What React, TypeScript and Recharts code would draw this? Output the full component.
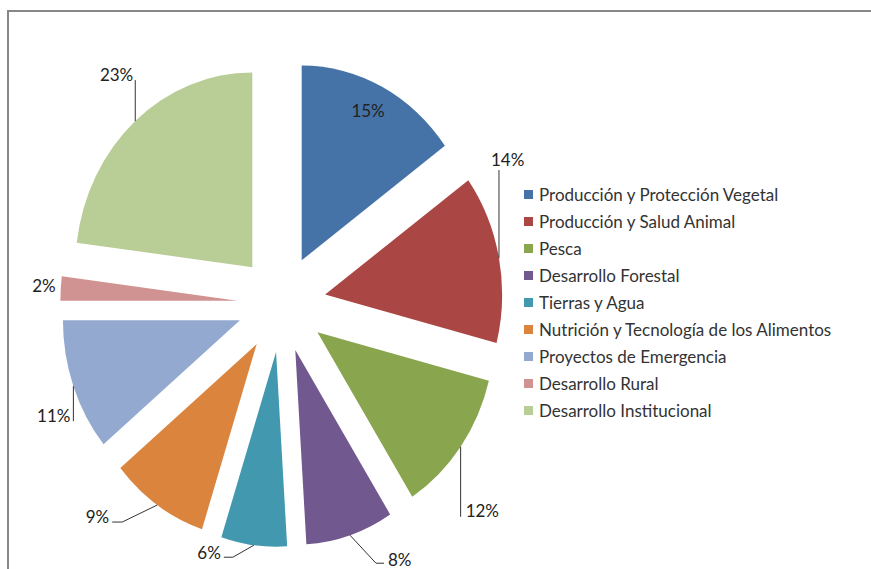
import { Legend, Pie, PieChart, Sector } from 'recharts';

const categories = [
  'Producción y Protección Vegetal',
  'Producción y Salud Animal',
  'Pesca',
  'Desarrollo Forestal',
  'Tierras y Agua',
  'Nutrición y Tecnología de los Alimentos',
  'Proyectos de Emergencia',
  'Desarrollo Rural',
  'Desarrollo Institucional',
];

const shares = [15, 14, 12, 8, 6, 9, 11, 2, 23];

const COLORS = [
  '#4572A7',
  '#AA4643',
  '#89A54E',
  '#71588F',
  '#4198AF',
  '#DB843D',
  '#93A9CF',
  '#D19392',
  '#B9CD96',
];

// pie geometry (the original is stretched a bit vertically)
const CX = 281.6;
const CY = 303.7;
const R = 177;
const EXPLODE = 44.3;
const SY = 1.1;
const RAD = Math.PI / 180;

// label placement relative to the outer midpoint of each exploded slice
const LABEL_LAYOUT = [
  { line: [], tx: -14, ty: 24, anchor: 'middle' },
  { line: [[0, 0], [0, -88]], tx: -8, ty: -99, anchor: 'start' },
  { line: [[0, 0], [0, 70]], tx: 5, ty: 64, anchor: 'start' },
  { line: [[0, 0], [26, 28], [34, 28]], tx: 38, ty: 24, anchor: 'start' },
  { line: [[0, 0], [-21, 12], [-30, 12]], tx: -33, ty: 7, anchor: 'end' },
  { line: [[0, 0], [-35, 17], [-45, 17]], tx: -48, ty: 11, anchor: 'end' },
  { line: [[0, 0], [0, 35]], tx: -3, ty: 29, anchor: 'end' },
  { line: [], tx: -5, ty: -3, anchor: 'end' },
  { line: [[0, 0], [0, -41]], tx: -2, ty: -47, anchor: 'end' },
];

const data = categories.map((name, i) => ({ name, value: shares[i], fill: COLORS[i] }));

function ExplodedSlice(props: any) {
  const { cx, cy, midAngle, startAngle, endAngle, outerRadius, fill } = props;
  const dx = EXPLODE * Math.cos(midAngle * RAD);
  const dy = -EXPLODE * Math.sin(midAngle * RAD);
  return (
    <g transform={`translate(0 ${cy}) scale(1 ${SY}) translate(0 ${-cy})`}>
      <Sector
        cx={cx + dx}
        cy={cy + dy}
        innerRadius={0}
        outerRadius={outerRadius}
        startAngle={startAngle}
        endAngle={endAngle}
        fill={fill}
        stroke="none"
      />
    </g>
  );
}

function SliceLabel(props: any) {
  const { cx, cy, midAngle, outerRadius, percent, index } = props;
  const rr = outerRadius + EXPLODE;
  const px = cx + rr * Math.cos(midAngle * RAD);
  const py = cy - SY * rr * Math.sin(midAngle * RAD);
  const lay = LABEL_LAYOUT[index];
  const pts = lay.line.map(([x, y]) => `${px + x},${py + y}`).join(' ');
  return (
    <g>
      {lay.line.length > 0 && (
        <polyline points={pts} fill="none" stroke="#333" strokeWidth={1} />
      )}
      <text
        x={px + lay.tx}
        y={py + lay.ty}
        textAnchor={lay.anchor as any}
        dominantBaseline="central"
        fill="#222"
        fontSize={17}
        fontFamily="Lato"
      >
        {`${Math.round(percent * 100)}%`}
      </text>
    </g>
  );
}

// legend keeps the data order (recharts would sort it by name)
function LegendList() {
  return (
    <ul style={{ listStyle: 'none', margin: 0, padding: 0 }}>
      {categories.map((name, i) => (
        <li
          key={name}
          style={{ display: 'flex', alignItems: 'center', height: 27, fontFamily: 'Lato', fontSize: 17, color: '#333', whiteSpace: 'nowrap' }}
        >
          <span style={{ width: 9, height: 9, background: COLORS[i], marginRight: 6, display: 'inline-block' }} />
          {name}
        </li>
      ))}
    </ul>
  );
}

export default function App() {
  return (
    <div style={{ position: 'fixed', left: 0, top: 0, width: 871, height: 569, overflow: 'hidden', background: '#fff' }}>
      <div
        style={{
          position: 'absolute',
          left: 7,
          top: 10,
          width: 1000,
          height: 1000,
          borderTop: '2px solid #878787',
          borderLeft: '2px solid #878787',
        }}
      />
      <div style={{ position: 'absolute', left: 0, top: 0 }}>
        <PieChart width={871} height={569} margin={{ top: 0, right: 0, bottom: 0, left: 0 }}>
          <Pie
            data={data}
            dataKey="value"
            nameKey="name"
            cx={CX}
            cy={CY}
            outerRadius={R}
            startAngle={90}
            endAngle={-270}
            shape={ExplodedSlice}
            label={SliceLabel}
            labelLine={false}
            isAnimationActive={false}
          />
          <Legend
            layout="vertical"
            content={<LegendList />}
            wrapperStyle={{ position: 'absolute', left: 524, top: 181, width: 340 }}
          />
        </PieChart>
      </div>
    </div>
  );
}
